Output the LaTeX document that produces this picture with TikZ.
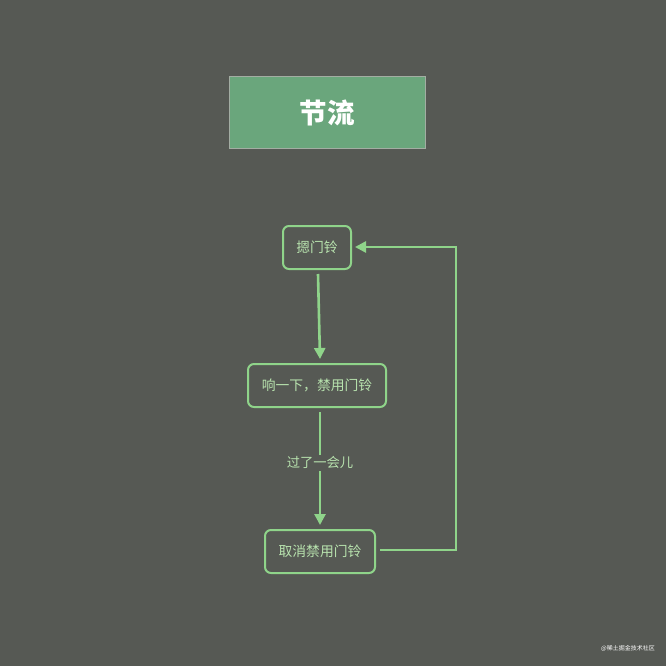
\documentclass[tikz,border=0pt]{standalone}
\usepackage{fontspec}
\newfontfamily\cjk{Noto Sans CJK SC}
\usetikzlibrary{arrows.meta}
\definecolor{bg}{HTML}{565954}
\definecolor{titlefill}{HTML}{6AA67C}
\definecolor{titleborder}{HTML}{A3ADA3}
\definecolor{lg}{HTML}{8FD48A}
\definecolor{lgtext}{HTML}{B8E3AE}
\tikzset{
  statebox/.style={draw=lg, line width=2pt, rounded corners=6pt, text=lgtext, font=\cjk\fontsize{13.8}{15}\selectfont, inner sep=0pt},
  flow/.style={draw=lg, line width=2.6pt, -{Triangle[length=11pt,width=11pt]}},
}
\begin{document}
\begin{tikzpicture}[x=1pt,y=-1pt]
\useasboundingbox (0,0) rectangle (666,666);
\fill[bg] (0,0) rectangle (666,666);
\node[draw=titleborder, line width=1pt, fill=titlefill, minimum width=196pt, minimum height=71pt, inner sep=0pt, text=white, font=\cjk\bfseries\fontsize{27.5}{30}\selectfont] (title) at (327,112.5) {节流};
\node[statebox, minimum width=68pt, minimum height=43pt] (a) at (317,247.5) {摁门铃};
\node[statebox, minimum width=138pt, minimum height=43pt] (b) at (317,385.5) {响一下，禁用门铃};
\node[statebox, minimum width=110pt, minimum height=43pt] (c) at (320,551.5) {取消禁用门铃};
\coordinate (a1) at (318,274);
\coordinate (b1) at (320,359);
\coordinate (b2) at (320,412);
\coordinate (c1) at (320,525);
\coordinate (c2) at (380,550);
\coordinate (k1) at (456,550);
\coordinate (k2) at (456,247);
\coordinate (a2) at (355,247);
\draw[flow] (a1) -- (b1);
\draw[flow] (b2) -- node[pos=0.45, fill=bg, text=lgtext, font=\cjk\fontsize{13.3}{14}\selectfont, inner sep=2pt] (lbl) {过了一会儿} (c1);
\draw[flow, rounded corners=0pt] (c2) -- (k1) -- (k2) -- (a2);
\node[text=white, font=\cjk\fontsize{6}{7}\selectfont, inner sep=0pt] (wm) at (628,648) {@稀土掘金技术社区};
\end{tikzpicture}
\end{document}
